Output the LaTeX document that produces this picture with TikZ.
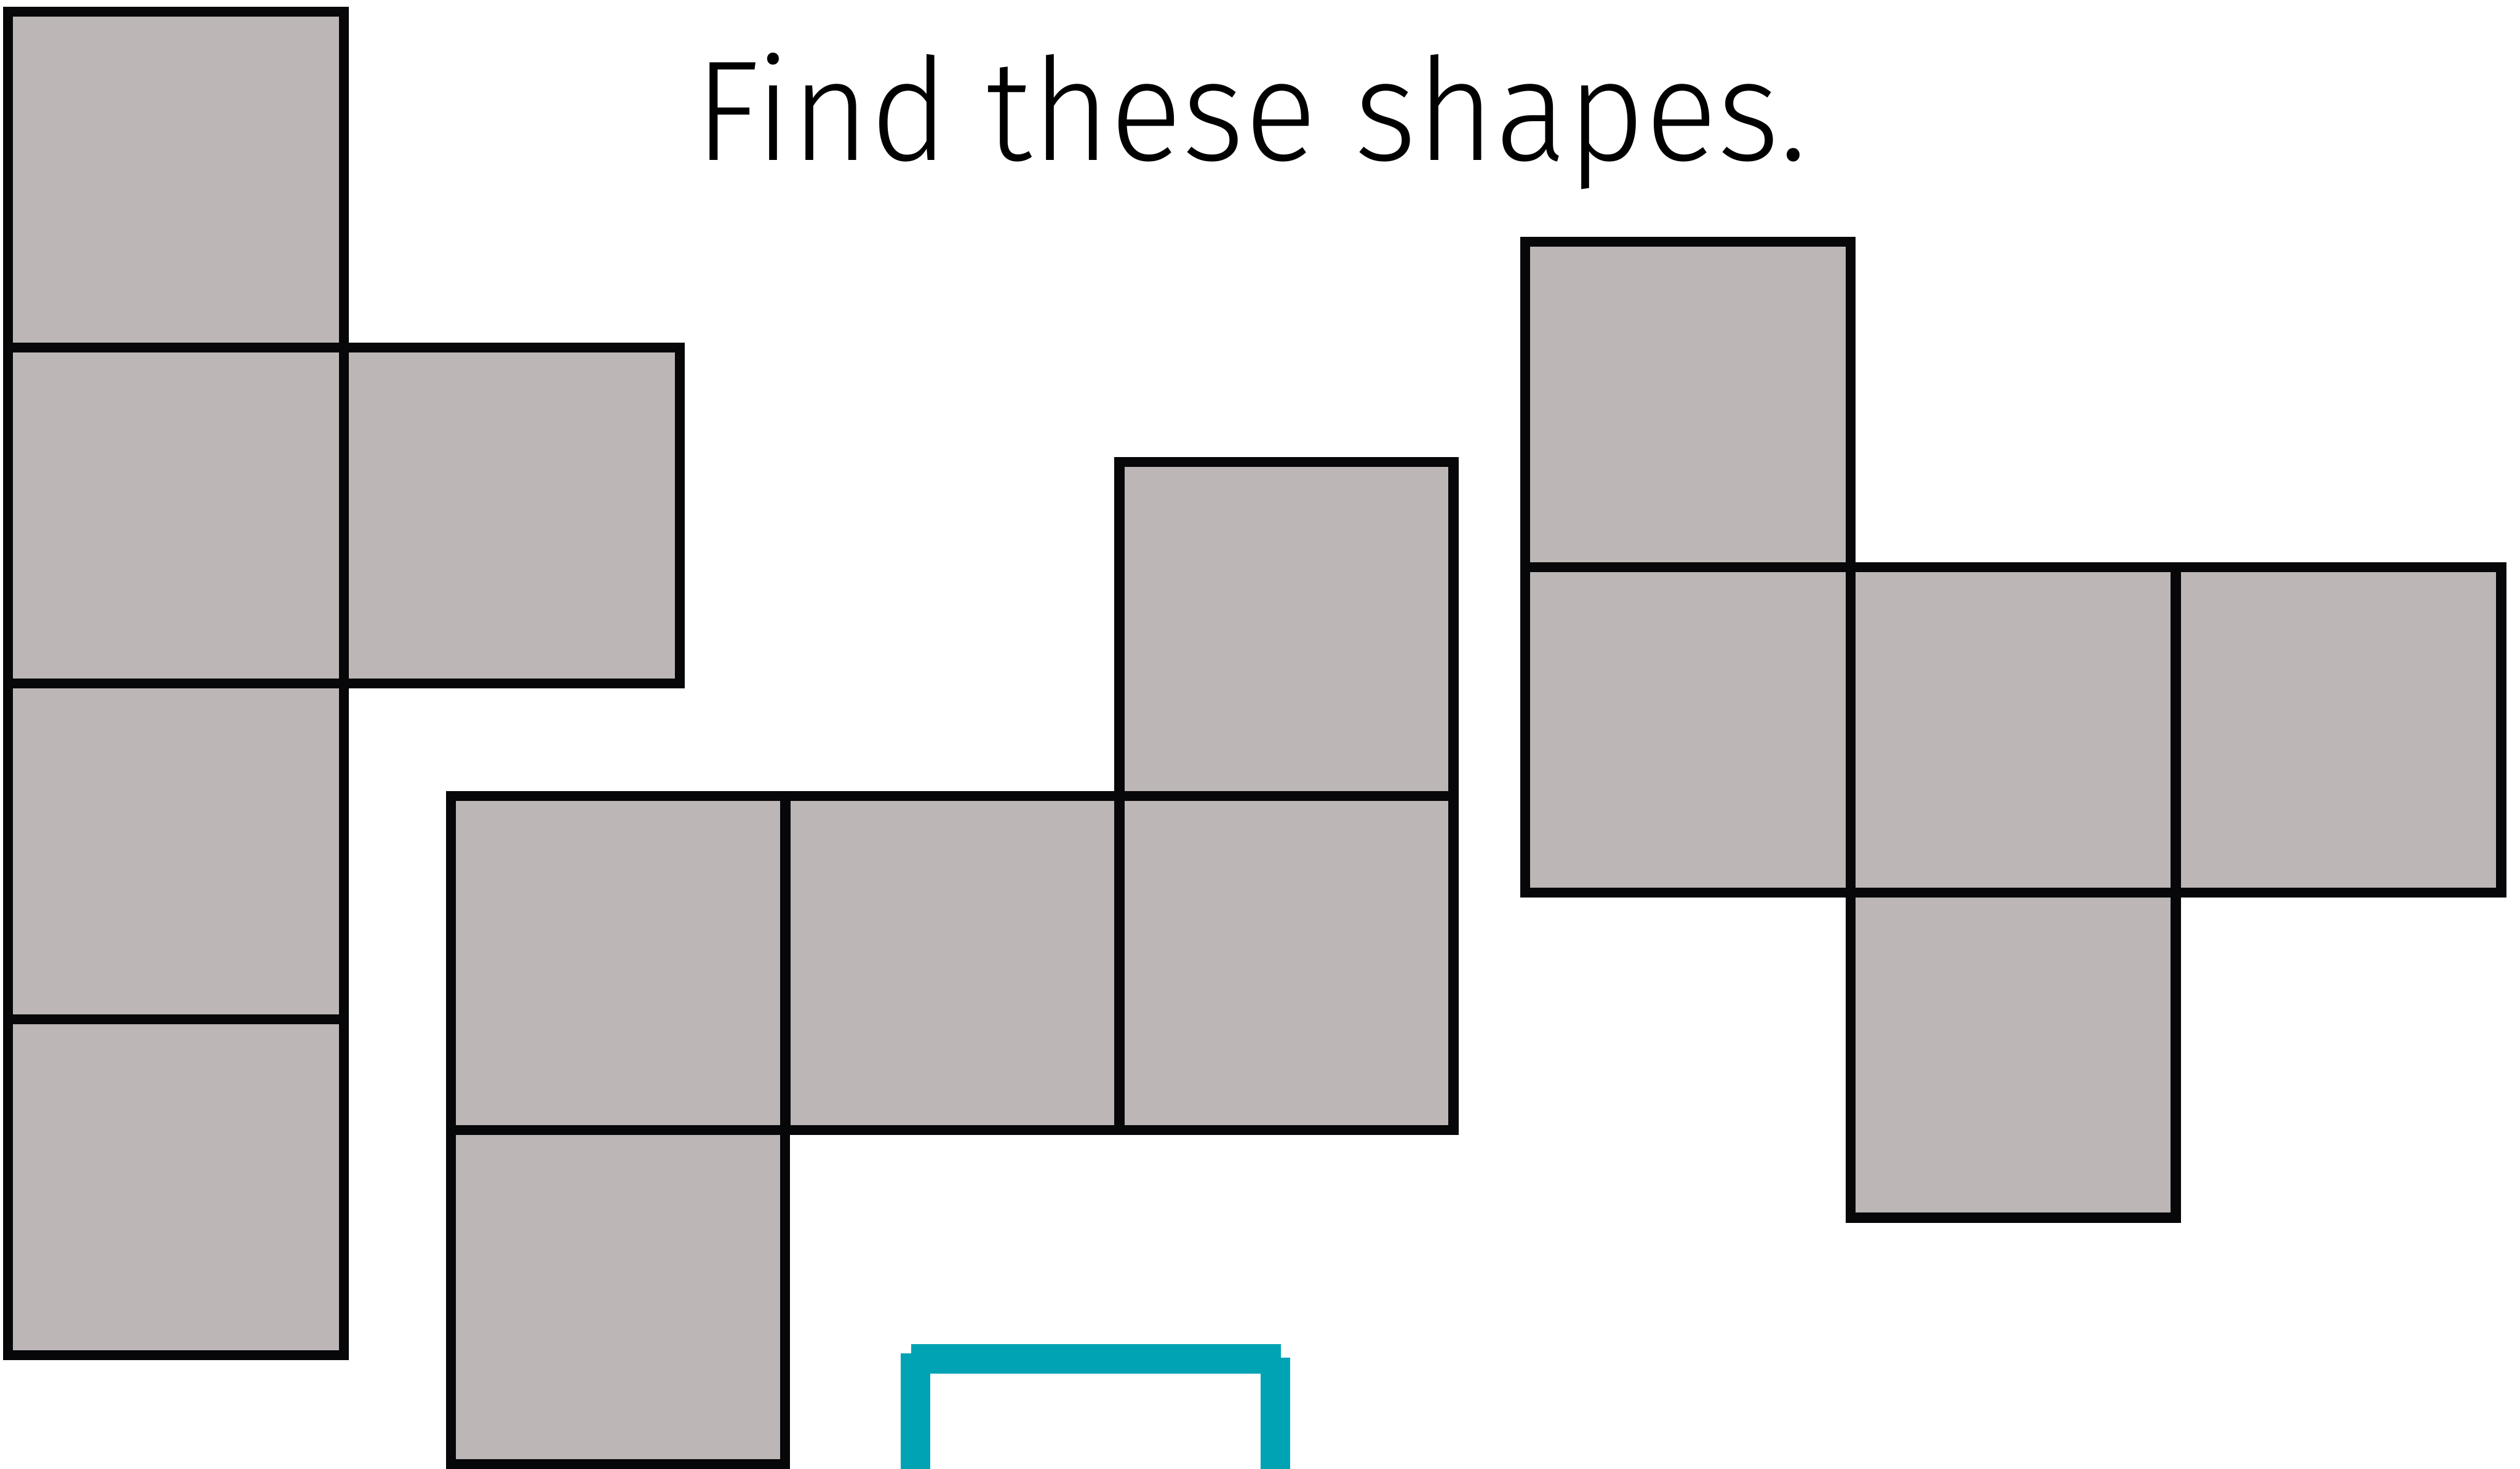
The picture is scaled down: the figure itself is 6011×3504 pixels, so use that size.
\documentclass[tikz,border=0pt]{standalone}
\usepackage{fontspec}
\setmainfont{Fira Sans}
\newfontfamily\titlefont{Fira Sans Light}[FakeStretch=0.943]
\definecolor{sqfill}{HTML}{BCB6B6}
\definecolor{sqline}{HTML}{07070A}
\definecolor{teal}{HTML}{00A3B4}
\begin{document}
\begin{tikzpicture}[x=0.1pt,y=-0.1pt,
  sqa/.style={draw=sqline,fill=sqfill,line width=2.4pt,inner sep=0pt,outer sep=0pt,minimum width=80.13pt,minimum height=80.13pt},
  sqb/.style={draw=sqline,fill=sqfill,line width=2.4pt,inner sep=0pt,outer sep=0pt,minimum width=79.7pt,minimum height=79.7pt},
  sqc/.style={draw=sqline,fill=sqfill,line width=2.4pt,inner sep=0pt,outer sep=0pt,minimum width=77.6pt,minimum height=77.6pt},
  tealline/.style={draw=teal,line width=7pt,line cap=butt}]
\useasboundingbox (0,0) rectangle (6011,3504);
% shape 1
\node[sqa] (a1) at (419.6,428.6) {};
\node[sqa] (a2) at (419.6,1229.9) {};
\node[sqa] (a3) at (419.6,2031.2) {};
\node[sqa] (a4) at (419.6,2832.5) {};
\node[sqa] (a5) at (1220.9,1229.9) {};
% shape 2
\node[sqb] (b1) at (3068.5,1500.5) {};
\node[sqb] (b2) at (1474.5,2297.5) {};
\node[sqb] (b3) at (2271.5,2297.5) {};
\node[sqb] (b4) at (3068.5,2297.5) {};
\node[sqb] (b5) at (1474.5,3094.5) {};
% shape 3
\node[sqc] (c1) at (4026,965) {};
\node[sqc] (c2) at (4026,1741) {};
\node[sqc] (c3) at (4802,1741) {};
\node[sqc] (c4) at (5578,1741) {};
\node[sqc] (c5) at (4802,2517) {};
% title
\node[anchor=base west,inner sep=0pt] (title) at (1656,382) {\titlefont\fontsize{34}{40}\selectfont Find these shapes.};
% teal partial square
\coordinate (tl1) at (2183.5,3229);
\coordinate (tl2) at (2183.5,3504);
\coordinate (tt1) at (2174,3242);
\coordinate (tt2) at (3056,3242);
\coordinate (tr1) at (3042.5,3239);
\coordinate (tr2) at (3042.5,3504);
\draw[tealline] (tl1) -- (tl2);
\draw[tealline] (tt1) -- (tt2);
\draw[tealline] (tr1) -- (tr2);
\end{tikzpicture}
\end{document}
